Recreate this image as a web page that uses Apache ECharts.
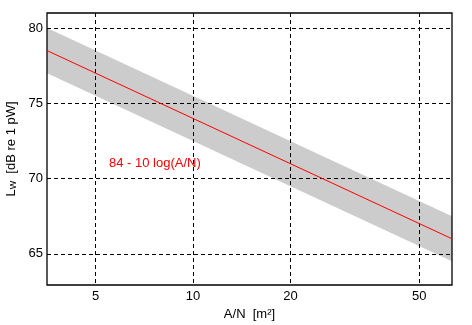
<!DOCTYPE html>
<html>
<head>
<meta charset="utf-8">
<script src="https://cdn.jsdelivr.net/npm/echarts@6/dist/echarts.min.js"></script>
<style>
  html, body { margin: 0; padding: 0; background: #fff; }
  #chart { width: 472px; height: 325px; }
</style>
</head>
<body>
<div id="chart"></div>
<script>
'use strict';

// A/N values at the left and right edge of the plot
var aN = [3.54, 63.1];
// level of the middle line, 84 - 10 log(A/N)
var lw = [78.5, 66.0];
// grey band: upper and lower limits
var upper = [80.0, 67.5];
var lower = [77.0, 64.5];

var xTicks = [5, 10, 20, 50];
var yTicks = [65, 70, 75, 80];

function lg(v) { return Math.log(v) / Math.LN10; }

var chart = echarts.init(document.getElementById('chart'));

var lineData = [];
for (var i = 0; i < aN.length; i++) {
  lineData.push([lg(aN[i]), lw[i]]);
}
// one band segment: x0, up0, lo0, x1, up1, lo1
var bandData = [[lg(aN[0]), upper[0], lower[0], lg(aN[1]), upper[1], lower[1]]];

var font = 'Liberation Sans, Arial, sans-serif';
var gridLine = { show: true, lineStyle: { color: '#000', type: [4, 3], width: 1 } };

var option = {
  animation: false,
  textStyle: { fontFamily: font },
  grid: {
    left: 47, right: 20, top: 13, bottom: 40,
    outerBoundsMode: 'none',
    containLabel: false,
    show: true, borderColor: '#000', borderWidth: 1.3, z: 5
  },
  xAxis: {
    type: 'value',
    z: 4,
    min: lg(3.537),
    max: lg(63.1),
    axisLine: { show: false },
    axisTick: { show: false, customValues: xTicks.map(lg) },
    splitLine: gridLine,
    axisLabel: {
      customValues: xTicks.map(lg),
      color: '#000', fontSize: 13, margin: 5, fontFamily: font,
      formatter: function (v) { return Math.round(Math.pow(10, v)); }
    },
    name: 'A/N  [m²]',
    nameLocation: 'middle',
    nameGap: 23,
    nameTextStyle: { color: '#000', fontSize: 13, fontFamily: font }
  },
  yAxis: {
    type: 'value',
    z: 4,
    min: 62.93,
    max: 81,
    axisLine: { show: false },
    axisTick: { show: false, customValues: yTicks },
    splitLine: gridLine,
    axisLabel: {
      customValues: yTicks,
      color: '#000', fontSize: 13, margin: 4, fontFamily: font
    },
    name: '{a|L}{s|W}{a|  [dB re 1 pW]}',
    nameLocation: 'middle',
    nameRotate: 90,
    nameGap: 27,
    nameTextStyle: {
      color: '#000',
      rich: {
        a: { fontSize: 13, fontFamily: font, color: '#000', lineHeight: 16, verticalAlign: 'bottom' },
        s: { fontSize: 9, fontFamily: font, color: '#000', lineHeight: 16, verticalAlign: 'bottom', padding: [5, 0, 0, 0] }
      }
    }
  },
  graphic: [{
    type: 'text',
    left: 109,
    top: 157,
    style: { text: '84 - 10 log(A/N)', fill: '#ff0000', fontSize: 13, fontFamily: font }
  }],
  series: [{
    type: 'custom',
    name: 'band',
    data: bandData,
    encode: { x: [0, 3], y: [1, 2, 4, 5] },
    clip: true,
    z: 1,
    renderItem: function (params, api) {
      var a = api.coord([api.value(0), api.value(1)]);
      var b = api.coord([api.value(3), api.value(4)]);
      var c = api.coord([api.value(3), api.value(5)]);
      var d = api.coord([api.value(0), api.value(2)]);
      return {
        type: 'polygon',
        shape: { points: [a, b, c, d] },
        style: { fill: '#cccccc' }
      };
    }
  }, {
    type: 'line',
    name: 'mean',
    data: lineData,
    symbol: 'none',
    lineStyle: { color: '#ff0000', width: 1 },
    z: 6
  }]
};

chart.setOption(option);
</script>
</body>
</html>
